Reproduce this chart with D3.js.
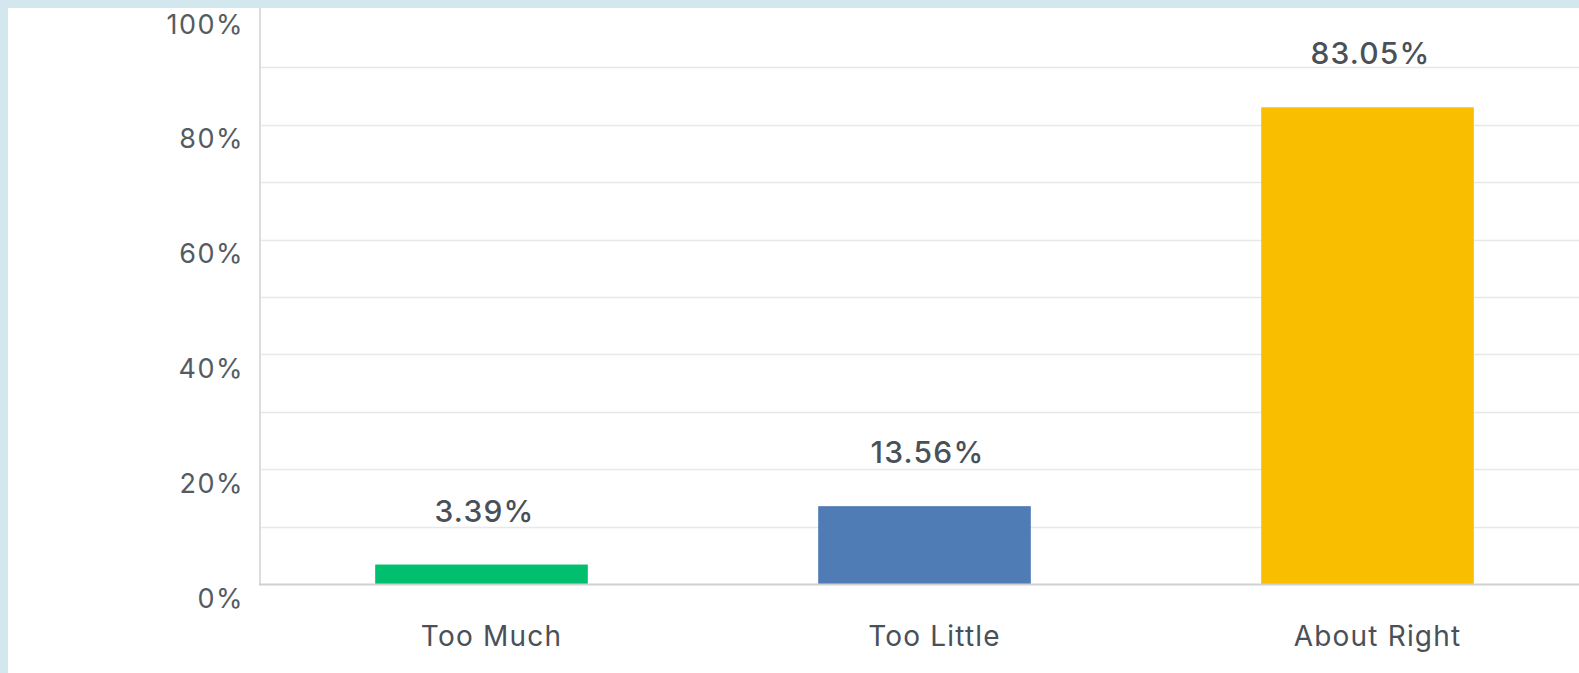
<!DOCTYPE html>
<html>
<head>
<meta charset="utf-8">
<script src="https://cdn.jsdelivr.net/npm/d3@7"></script>
<style>
  html, body { margin: 0; padding: 0; background: #ffffff; }
  svg { display: block; }
  text { font-family: "Inter", "Open Sans", sans-serif; }
</style>
</head>
<body>
<svg id="chart" width="1579" height="673"></svg>
<script>
const categories = ["Too Much", "Too Little", "About Right"];
const values = [3.39, 13.56, 83.05];
const valueLabels = ["3.39%", "13.56%", "83.05%"];
const colors = ["#00bf6f", "#507cb6", "#f9be00"];
const yTickValues = [0, 20, 40, 60, 80, 100];
const yTickLabels = ["0%", "20%", "40%", "60%", "80%", "100%"];
const gridValues = [10, 20, 30, 40, 50, 60, 70, 80, 90];

const W = 1579, H = 673;
const svg = d3.select("#chart");

svg.append("rect").attr("x", 0).attr("y", 0).attr("width", W).attr("height", H).attr("fill", "#d3e8ee");
svg.append("rect").attr("x", 8).attr("y", 8).attr("width", W - 8).attr("height", H - 8).attr("fill", "#ffffff");

const x = d3.scaleBand().domain(categories).range([260, 1589]).paddingInner(0.52).paddingOuter(0.26);
const y = d3.scaleLinear().domain([0, 100]).range([584, 10]);

svg.append("g").selectAll("line").data(gridValues).join("line")
  .attr("x1", 261).attr("x2", W)
  .attr("y1", d => Math.round(y(d)) + 0.5).attr("y2", d => Math.round(y(d)) + 0.5)
  .attr("stroke", "#e8e8e8").attr("stroke-width", 1.5);

svg.append("g").selectAll("rect").data(values).join("rect")
  .attr("x", (d, i) => x(categories[i]))
  .attr("width", x.bandwidth())
  .attr("y", d => y(d))
  .attr("height", d => y(0) - y(d))
  .attr("fill", (d, i) => colors[i]);

svg.append("line").attr("x1", 260).attr("x2", 260).attr("y1", 8).attr("y2", 585)
  .attr("stroke", "#dcdcdc").attr("stroke-width", 2);
svg.append("line").attr("x1", 259).attr("x2", W).attr("y1", 584.5).attr("y2", 584.5)
  .attr("stroke", "#d0d0d0").attr("stroke-width", 2);

svg.append("g").selectAll("text").data(yTickValues).join("text")
  .attr("x", 244)
  .attr("y", d => y(d) + 14)
  .attr("text-anchor", "end")
  .attr("dominant-baseline", "central")
  .attr("font-size", 27)
  .attr("letter-spacing", 1.5)
  .attr("fill", "#555b62")
  .text((d, i) => yTickLabels[i]);

svg.append("g").selectAll("text").data(values).join("text")
  .attr("x", (d, i) => x(categories[i]) + x.bandwidth() / 2 + 3)
  .attr("y", d => y(d) - 54)
  .attr("text-anchor", "middle")
  .attr("dominant-baseline", "central")
  .attr("font-size", 30)
  .attr("font-weight", 500)
  .attr("letter-spacing", 1.2)
  .attr("fill", "#4a5058")
  .text((d, i) => valueLabels[i]);

svg.append("g").selectAll("text").data(categories).join("text")
  .attr("x", d => x(d) + x.bandwidth() / 2 + 10)
  .attr("y", 636)
  .attr("text-anchor", "middle")
  .attr("dominant-baseline", "central")
  .attr("font-size", 28)
  .attr("letter-spacing", 1.2)
  .attr("fill", "#4a5058")
  .text(d => d);
</script>
</body>
</html>
